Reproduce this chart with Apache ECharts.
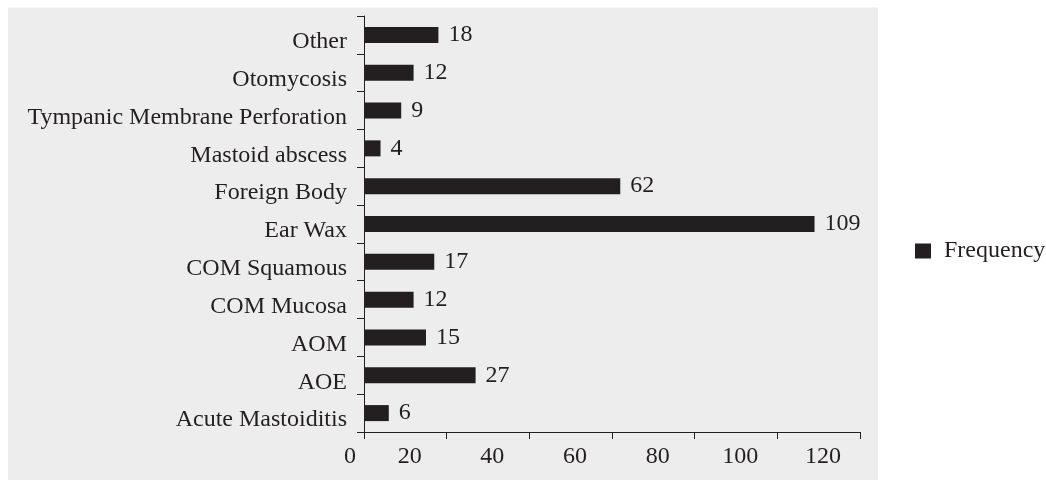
<!DOCTYPE html>
<html>
<head>
<meta charset="utf-8">
<script src="https://cdn.jsdelivr.net/npm/echarts@6/dist/echarts.min.js"></script>
<style>
html,body{margin:0;padding:0;background:#fff;}
#chart{width:1046px;height:480px;}
</style>
</head>
<body>
<div id="chart"></div>
<script>
// Categories listed bottom to top
const categories = ['Acute Mastoiditis','AOE','AOM','COM Mucosa','COM Squamous','Ear Wax','Foreign Body','Mastoid abscess','Tympanic Membrane Perforation','Otomycosis','Other'];
const frequency = [6, 27, 15, 12, 17, 109, 62, 4, 9, 12, 18];
const seriesName = 'Frequency';
const xTicks = [0, 20, 40, 60, 80, 100, 120];

const ink = '#231f20';
const font = '"Liberation Serif", "Times New Roman", serif';
const fs = 24;

const chart = echarts.init(document.getElementById('chart'), null, {renderer: 'canvas'});
chart.setOption({
  backgroundColor: '#ffffff',
  animation: false,
  graphic: [{
    type: 'rect', z: -10, silent: true,
    shape: {x: 8, y: 7.5, width: 870, height: 480},
    style: {fill: '#ededed'}
  }],
  legend: {
    data: [seriesName],
    left: 910, top: 234,
    icon: 'rect', itemWidth: 16, itemHeight: 15,
    textStyle: {fontFamily: font, fontSize: fs, color: ink, padding: [0, 0, 0, 8]}
  },
  grid: {left: 364, right: 186, top: 16, bottom: 48, containLabel: false},
  xAxis: {
    type: 'value', min: xTicks[0], max: xTicks[xTicks.length - 1], interval: 20,
    axisLine: {show: true, lineStyle: {color: ink, width: 1}},
    axisTick: {show: true, length: 7, lineStyle: {color: ink}},
    splitLine: {show: false},
    axisLabel: {
      fontFamily: font, fontSize: fs, color: ink, margin: 13,
      formatter: v => (v === 0 ? '{z|' + v + '}' : '{n|' + v + '}'),
      rich: {
        z: {fontFamily: font, fontSize: fs, color: ink, padding: [0, 28, 0, 0]},
        n: {fontFamily: font, fontSize: fs, color: ink, padding: [0, 74, 0, 0]}
      }
    }
  },
  yAxis: {
    type: 'category', data: categories,
    axisLine: {show: true, lineStyle: {color: ink, width: 1}},
    axisTick: {show: true, length: 7, inside: false, lineStyle: {color: ink}},
    axisLabel: {
      margin: 17,
      formatter: v => '{c|' + v + '}',
      rich: {c: {fontFamily: font, fontSize: fs, color: ink, padding: [14, 0, 0, 0]}}
    }
  },
  series: [{
    name: seriesName, type: 'bar', data: frequency,
    barWidth: 16,
    itemStyle: {color: ink},
    label: {show: true, position: 'right', distance: 10, fontFamily: font, fontSize: fs, color: ink}
  }]
});
</script>
</body>
</html>
